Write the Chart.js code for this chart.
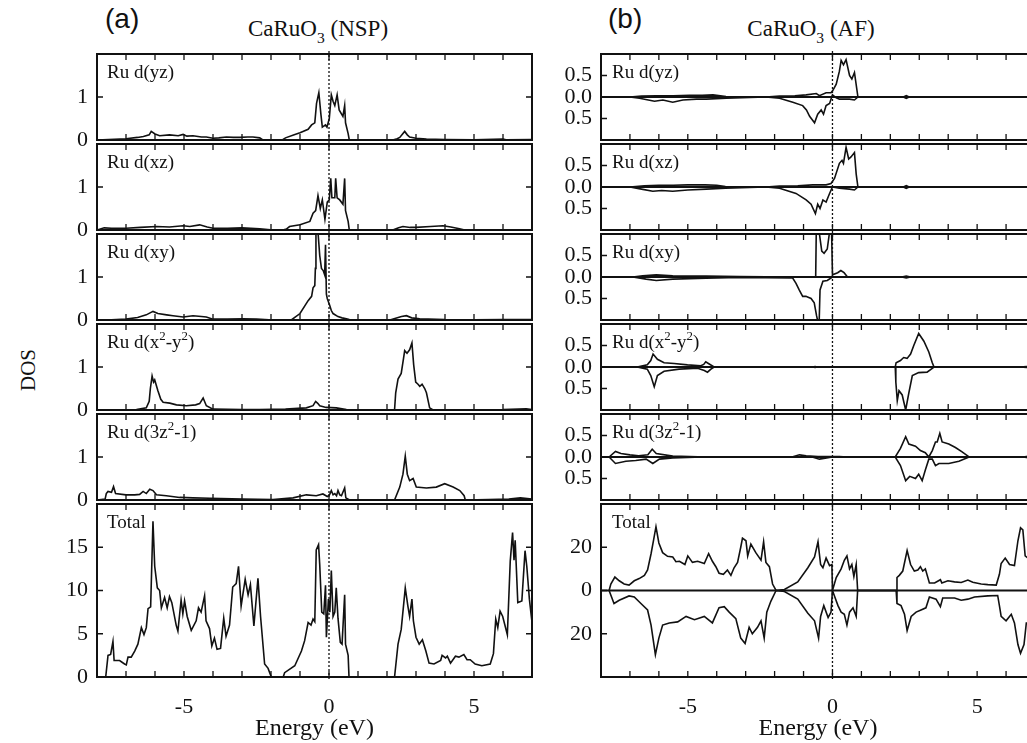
<!DOCTYPE html>
<html>
<head>
<meta charset="utf-8">
<script src="https://cdn.jsdelivr.net/npm/chart.js@4.4.1/dist/chart.umd.min.js"></script>
<style>
    html, body { margin: 0; padding: 0; width: 1027px; height: 743px; overflow: hidden; background: #fff; }
    #fig { position: relative; width: 1027px; height: 743px; font-family: "Liberation Serif", "DejaVu Serif", serif; color: #111; }
    #fig canvas { position: absolute; }
    .lbl { position: absolute; font-size: 19px; line-height: 1; white-space: nowrap; }
    .title { position: absolute; font-size: 23px; line-height: 1; white-space: nowrap; transform: translateX(-50%); }
    .tag { position: absolute; font-family: "Liberation Sans", Arial, sans-serif; font-size: 28px; line-height: 1; }
    sub { font-size: 0.68em; vertical-align: -0.45em; line-height: 0; }
    sup { font-size: 0.68em; vertical-align: 0.6em; line-height: 0; }
    #dos { position: absolute; left: 28px; top: 370px; font-size: 21px; line-height: 1; transform: translate(-50%, -50%) rotate(-90deg); }
</style>
</head>
<body>
<div id="fig">
    <div class="tag" style="left:105px;top:5px">(a)</div>
    <div class="tag" style="left:608px;top:5px">(b)</div>
    <div class="title" style="left:318px;top:17px">CaRuO<sub>3</sub> (NSP)</div>
    <div class="title" style="left:811px;top:17px">CaRuO<sub>3</sub> (AF)</div>
    <div id="dos">DOS</div>
</div>
<script>
// ---- data: [energy (eV), DOS] ----
const panelNames = ['Ru d(yz)', 'Ru d(xz)', 'Ru d(xy)', 'Ru d(x<sup>2</sup>-y<sup>2</sup>)', 'Ru d(3z<sup>2</sup>-1)', 'Total'];
const energyTicks = [-5, 0, 5];
const nspOrbTicks = [0, 1];
const nspTotTicks = [0, 5, 10, 15];
const afOrbTicks = [-0.5, 0, 0.5];
const afTotTicks = [-20, 0, 20];

// (a) non spin polarised
const nspYz = [[-8,0],[-7.6,0.01],[-7.0,0.03],[-6.6,0.06],[-6.4,0.08],[-6.2,0.12],[-6.13,0.2],[-6.0,0.14],[-5.84,0.1],[-5.5,0.12],[-5.2,0.1],[-5.03,0.13],[-4.9,0.09],[-4.69,0.1],[-4.4,0.07],[-4.23,0.07],[-4.0,0.04],[-3.8,0.05],[-3.54,0.07],[-3.3,0.06],[-3.08,0.06],[-2.8,0.07],[-2.62,0.07],[-2.39,0.05],[-2.28,0],[-1.61,0],[-1.5,0.05],[-1.2,0.12],[-1.0,0.17],[-0.72,0.25],[-0.6,0.35],[-0.49,0.4],[-0.43,0.85],[-0.35,1.1],[-0.28,0.6],[-0.23,0.3],[-0.12,0.35],[-0.07,0.3],[0.01,0.5],[0.08,1.05],[0.14,0.9],[0.2,0.8],[0.28,1.05],[0.35,0.7],[0.48,0.55],[0.54,0.8],[0.57,0.4],[0.66,0.15],[0.7,0],[2.2,0],[2.35,0.03],[2.44,0.06],[2.61,0.2],[2.7,0.12],[2.78,0.07],[3.0,0.04],[3.36,0.02],[4,0.01],[5,0.005],[6.0,0.02],[6.1,0.005],[7,0.01]];
const nspXz = [[-8,0],[-7.75,0.05],[-7.5,0.04],[-7.0,0.04],[-6.5,0.06],[-5.95,0.08],[-5.5,0.07],[-5.03,0.1],[-4.8,0.08],[-4.46,0.12],[-4.2,0.07],[-4.0,0.04],[-3.5,0.04],[-3.0,0.05],[-2.39,0.03],[-1.93,0],[-1.59,0],[-1.47,0.02],[-1.36,0.08],[-1.0,0.12],[-0.66,0.2],[-0.55,0.39],[-0.46,0.45],[-0.38,0.8],[-0.3,0.5],[-0.23,0.7],[-0.14,0.25],[-0.06,0.65],[0.01,0.7],[0.06,1.2],[0.1,0.75],[0.2,0.75],[0.23,1.2],[0.28,0.75],[0.37,0.7],[0.48,0.6],[0.54,1.2],[0.57,0.45],[0.66,0.2],[0.7,0],[2.2,0],[2.4,0.05],[2.55,0.08],[2.8,0.06],[3.0,0.06],[3.5,0.08],[3.93,0.1],[4.2,0.07],[4.5,0.03],[4.68,0],[5.5,0.005],[7,0.005]];
const nspXy = [[-8,0],[-7.5,0.005],[-7.0,0.02],[-6.6,0.06],[-6.3,0.12],[-6.07,0.2],[-5.9,0.15],[-5.6,0.12],[-5.38,0.1],[-5.03,0.07],[-4.69,0.1],[-4.4,0.08],[-4.23,0.07],[-4.0,0.02],[-3.5,0.02],[-2.97,0.03],[-2.5,0.02],[-1.93,0],[-1.3,0],[-1.0,0.15],[-0.72,0.45],[-0.6,0.55],[-0.55,0.75],[-0.49,0.8],[-0.47,1.2],[-0.45,2.05],[-0.38,2.05],[-0.32,1.5],[-0.26,1.2],[-0.2,1.15],[-0.15,1.05],[-0.12,1.75],[-0.09,0.6],[-0.06,0.5],[0.02,0.35],[0.08,0.22],[0.14,0.15],[0.31,0.08],[0.45,0.05],[0.6,0.03],[0.7,0.01],[2.1,0],[2.3,0.04],[2.5,0.08],[2.67,0.1],[2.85,0.05],[3.13,0.03],[4,0.01],[5,0.005],[6,0.01],[7,0.01]];
const nspX2y2 = [[-8,0],[-7,0.005],[-6.64,0.01],[-6.3,0.05],[-6.2,0.2],[-6.16,0.5],[-6.1,0.79],[-6.05,0.65],[-6.01,0.7],[-5.9,0.45],[-5.8,0.25],[-5.72,0.18],[-5.49,0.16],[-5.26,0.12],[-4.92,0.1],[-4.6,0.12],[-4.46,0.15],[-4.34,0.28],[-4.23,0.1],[-4.0,0.02],[-3,0.01],[-2.39,0.01],[-1.5,0.02],[-0.78,0.05],[-0.55,0.1],[-0.46,0.2],[-0.38,0.15],[-0.32,0.1],[-0.1,0.06],[0.25,0.05],[0.6,0.01],[2.26,0],[2.3,0.4],[2.38,0.72],[2.49,0.85],[2.57,1.2],[2.61,1.38],[2.69,1.32],[2.78,1.4],[2.86,1.56],[2.92,1.05],[2.99,0.65],[3.07,0.6],[3.13,0.55],[3.21,0.6],[3.3,0.5],[3.36,0.4],[3.47,0.05],[3.59,0],[5,0.005],[6,0.01],[6.8,0.03],[7,0.01]];
const nsp3z2 = [[-8,0],[-7.72,0.02],[-7.68,0.15],[-7.62,0.2],[-7.5,0.18],[-7.43,0.31],[-7.36,0.15],[-7.0,0.12],[-6.7,0.12],[-6.53,0.13],[-6.41,0.2],[-6.3,0.15],[-6.18,0.25],[-6.07,0.22],[-5.95,0.12],[-5.61,0.1],[-5.15,0.06],[-4.69,0.05],[-4.11,0.04],[-2.97,0.02],[-1.93,0.01],[-1.24,0.05],[-0.78,0.12],[-0.44,0.1],[-0.21,0.14],[-0.06,0.08],[0.02,0.12],[0.08,0.22],[0.14,0.12],[0.2,0.15],[0.26,0.1],[0.31,0.22],[0.37,0.12],[0.43,0.1],[0.54,0.28],[0.58,0.05],[0.71,0],[2.26,0],[2.44,0.3],[2.55,0.6],[2.63,1.02],[2.7,0.6],[2.78,0.45],[2.9,0.5],[3.01,0.3],[3.36,0.28],[3.7,0.3],[3.99,0.38],[4.28,0.3],[4.51,0.22],[4.66,0.1],[4.7,0],[5.5,0.01],[6.2,0.02],[6.6,0.05],[7,0.02]];
const nspTotal = [[-8,0],[-7.7,0],[-7.62,2.5],[-7.53,2.6],[-7.45,4.1],[-7.41,1.9],[-7.22,1.9],[-7.05,1.5],[-6.99,1.4],[-6.93,2.3],[-6.82,2.3],[-6.7,3.0],[-6.59,3.8],[-6.47,5.7],[-6.38,4.9],[-6.3,5.7],[-6.24,7.9],[-6.15,8.1],[-6.07,18.0],[-6.01,12.8],[-5.92,10.3],[-5.84,10.0],[-5.78,8.0],[-5.67,9.2],[-5.58,8.0],[-5.5,9.3],[-5.42,8.6],[-5.27,6.0],[-5.21,5.3],[-5.1,8.9],[-5.04,7.3],[-4.98,8.8],[-4.89,7.0],[-4.75,5.4],[-4.58,6.5],[-4.5,8.0],[-4.41,7.5],[-4.29,9.4],[-4.24,6.5],[-4.12,5.6],[-4.04,3.6],[-3.95,4.5],[-3.86,3.2],[-3.74,3.3],[-3.63,6.8],[-3.55,4.7],[-3.43,6.0],[-3.32,10.4],[-3.2,10.8],[-3.12,12.8],[-3.03,8.2],[-2.89,11.3],[-2.79,9.5],[-2.71,10.7],[-2.59,5.9],[-2.45,11.4],[-2.36,7.0],[-2.22,1.5],[-2.1,1.0],[-1.99,0],[-1.58,0],[-1.53,0.5],[-1.18,1.3],[-0.95,3.0],[-0.84,4.2],[-0.72,6.3],[-0.62,6.0],[-0.55,6.7],[-0.49,6.4],[-0.44,14.7],[-0.36,15.3],[-0.32,13.0],[-0.25,7.5],[-0.18,7.3],[-0.12,10.6],[-0.09,4.6],[-0.02,9.0],[0.03,7.5],[0.08,12.3],[0.14,7.0],[0.2,7.5],[0.25,10.3],[0.31,6.8],[0.39,4.0],[0.45,3.8],[0.54,9.5],[0.57,3.8],[0.66,2.5],[0.69,0],[2.26,0],[2.38,3.8],[2.49,5.5],[2.63,10.3],[2.72,8.2],[2.78,7.0],[2.86,9.0],[2.91,6.5],[3.0,4.6],[3.11,3.8],[3.22,4.3],[3.34,3.0],[3.45,1.6],[3.62,1.5],[3.85,1.9],[3.9,2.5],[4.02,2.2],[4.08,2.4],[4.19,1.6],[4.36,2.4],[4.48,2.3],[4.65,2.6],[4.76,2.0],[4.87,2.0],[5.04,1.5],[5.27,1.3],[5.56,1.5],[5.67,2.7],[5.75,6.7],[5.82,5.7],[5.9,7.6],[5.99,7.0],[6.15,4.9],[6.25,13.4],[6.33,16.7],[6.38,13.5],[6.42,15.8],[6.51,8.6],[6.65,8.8],[6.76,14.6],[6.82,12.8],[6.91,9.0],[7.0,6.3]];

// (b) antiferromagnetic, spin up (+) and spin down (-)
const afYzUp = [[-7.0,0],[-6.6,0.02],[-6.09,0.03],[-5.5,0.03],[-4.94,0.04],[-4.5,0.04],[-4.13,0.05],[-3.68,0.01],[-2.3,0],[-1.83,0.02],[-1.3,0.03],[-0.91,0.05],[-0.56,0.08],[-0.45,0.03],[-0.22,0.1],[-0.05,0.1],[0.01,0.15],[0.13,0.3],[0.24,0.6],[0.3,0.85],[0.38,0.75],[0.47,0.87],[0.59,0.5],[0.67,0.42],[0.76,0.57],[0.88,0],[2.45,0],[2.55,0.03],[2.65,0]];
const afYzDn = [[-7.0,0],[-6.67,-0.03],[-6.15,-0.1],[-5.86,-0.07],[-5.52,-0.12],[-5.17,-0.07],[-4.7,-0.05],[-4.36,-0.05],[-3.67,-0.03],[-2.3,0],[-1.83,-0.03],[-1.37,-0.12],[-1.03,-0.2],[-0.9,-0.3],[-0.79,-0.45],[-0.62,-0.6],[-0.51,-0.4],[-0.39,-0.3],[-0.31,-0.4],[-0.22,-0.2],[-0.1,-0.15],[0.0,0.05],[0.13,-0.02],[0.24,-0.05],[0.59,-0.05],[0.76,-0.07],[0.88,0],[2.45,0],[2.55,-0.03],[2.65,0]];
const afXzUp = [[-7.0,0],[-6.5,0.03],[-6.0,0.04],[-5.5,0.04],[-5.0,0.05],[-4.4,0.05],[-4.0,0.04],[-3.7,0.01],[-2.3,0],[-1.83,0.02],[-1.2,0.03],[-0.68,0.05],[-0.22,0.05],[-0.05,0.08],[0.07,0.2],[0.24,0.55],[0.33,0.62],[0.38,0.55],[0.47,0.92],[0.56,0.65],[0.64,0.7],[0.76,0.8],[0.82,0.3],[0.88,0],[2.45,0],[2.55,0.03],[2.65,0]];
const afXzDn = [[-7.0,0],[-6.6,-0.05],[-6.21,-0.1],[-5.9,-0.08],[-5.52,-0.1],[-5.0,-0.07],[-4.36,-0.05],[-3.7,-0.03],[-2.3,0],[-1.83,-0.03],[-1.26,-0.15],[-0.91,-0.3],[-0.74,-0.4],[-0.59,-0.62],[-0.51,-0.4],[-0.43,-0.5],[-0.33,-0.3],[-0.22,-0.35],[-0.1,-0.15],[0,0],[0.24,-0.03],[0.59,-0.05],[0.76,-0.07],[0.88,0],[2.45,0],[2.55,-0.03],[2.65,0]];
const afXyUp = [[-6.9,0],[-6.56,0.03],[-6.09,0.05],[-5.52,0.03],[-4.37,0.02],[-3.22,0.01],[-1.38,0],[-0.58,0],[-0.56,1.05],[-0.46,1.05],[-0.37,0.6],[-0.29,0.55],[-0.18,0.65],[-0.1,1.05],[-0.03,1.05],[0,0.05],[0.18,0.1],[0.29,0.15],[0.4,0.1],[0.52,0],[2.4,0],[2.55,0.02],[2.7,0]];
const afXyDn = [[-6.9,0],[-6.44,-0.05],[-6.09,-0.08],[-5.52,-0.05],[-4.37,-0.03],[-3.22,-0.01],[-1.38,-0.02],[-1.26,-0.15],[-1.15,-0.3],[-1.03,-0.45],[-0.92,-0.45],[-0.74,-0.5],[-0.63,-0.6],[-0.55,-0.9],[-0.5,-1.05],[-0.46,-1.05],[-0.43,-0.3],[-0.33,-0.1],[-0.18,-0.08],[0,0],[0.5,0],[2.4,0],[2.55,-0.02],[2.7,0]];
const afX2y2Up = [[-6.75,0],[-6.4,0.05],[-6.28,0.15],[-6.2,0.3],[-6.05,0.18],[-5.82,0.1],[-5.47,0.08],[-5.01,0.05],[-4.55,0.03],[-4.45,0.06],[-4.38,0.12],[-4.26,0.07],[-4.09,0],[-0.7,0],[-0.6,0.01],[-0.5,0],[2.17,0],[2.2,0.1],[2.35,0.15],[2.46,0.22],[2.58,0.2],[2.7,0.3],[2.81,0.5],[2.98,0.78],[3.16,0.6],[3.33,0.35],[3.45,0.1],[3.51,0],[6.5,0],[6.7,0.01],[7,0]];
const afX2y2Dn = [[-6.75,0],[-6.4,-0.05],[-6.28,-0.2],[-6.16,-0.46],[-6.05,-0.2],[-5.82,-0.1],[-5.3,-0.05],[-4.66,-0.03],[-4.43,-0.08],[-4.32,-0.12],[-4.2,-0.05],[-4.09,0],[-0.7,0],[-0.6,-0.01],[-0.5,0],[2.17,0],[2.19,-0.35],[2.24,-0.78],[2.3,-0.55],[2.41,-0.65],[2.53,-1.0],[2.64,-0.6],[2.76,-0.2],[2.98,-0.13],[3.27,-0.12],[3.45,-0.03],[3.51,0],[6.5,0],[6.7,-0.01],[7,0]];
const af3z2Up = [[-7.72,0],[-7.5,0.13],[-7.31,0.08],[-7.0,0.05],[-6.7,0.03],[-6.38,0.05],[-6.23,0.18],[-6.09,0.08],[-5.52,0.02],[-4.37,0],[-1.4,0],[-1.14,0.05],[-0.91,0.03],[-0.5,0.01],[0.24,0.01],[0.5,0],[2.17,0],[2.35,0.2],[2.53,0.47],[2.64,0.3],[2.87,0.25],[3.04,0.15],[3.21,0.1],[3.33,0],[3.45,0.15],[3.56,0.35],[3.62,0.35],[3.71,0.55],[3.79,0.35],[4.02,0.3],[4.25,0.22],[4.48,0.12],[4.66,0.03],[4.72,0],[6.6,0],[6.8,0.02],[7,0]];
const af3z2Dn = [[-7.72,0],[-7.5,-0.15],[-7.14,-0.1],[-6.8,-0.08],[-6.44,-0.05],[-6.21,-0.15],[-5.98,-0.05],[-5.52,-0.02],[-4.5,0],[-0.7,0],[-0.45,-0.05],[-0.2,-0.02],[0,0],[2.17,0],[2.35,-0.2],[2.53,-0.55],[2.67,-0.45],[2.87,-0.5],[2.98,-0.4],[3.1,-0.55],[3.21,-0.3],[3.33,-0.05],[3.45,-0.05],[3.56,-0.2],[3.68,-0.15],[4.02,-0.15],[4.37,-0.1],[4.66,-0.02],[4.72,0],[6.6,0],[6.8,-0.02],[7,0]];
const afTotUp = [[-7.72,0],[-7.66,3],[-7.52,6.2],[-7.37,4.5],[-7.2,3],[-7.03,2.5],[-6.85,4.5],[-6.68,5.5],[-6.5,7.0],[-6.39,9.5],[-6.27,17],[-6.18,23.5],[-6.1,29.5],[-6.0,22],[-5.87,17.5],[-5.7,15.8],[-5.52,15.5],[-5.41,13.3],[-5.29,13.5],[-5.1,12.0],[-5.0,16],[-4.84,13],[-4.66,13.5],[-4.43,12.5],[-4.28,17],[-4.15,13.5],[-4.03,11],[-3.92,8],[-3.77,7.5],[-3.63,9.5],[-3.51,7.0],[-3.4,10.5],[-3.28,13],[-3.17,20],[-3.11,24.2],[-2.99,23],[-2.93,16],[-2.82,21.5],[-2.65,17.5],[-2.47,14],[-2.38,22.5],[-2.3,13],[-2.18,11],[-2.07,3],[-1.95,0],[-1.66,0.5],[-1.2,4],[-0.85,10.5],[-0.62,15.5],[-0.5,22.5],[-0.41,12],[-0.33,10.5],[-0.22,15],[-0.1,11.5],[-0.02,12],[0,0],[0.13,6],[0.3,10],[0.41,14],[0.5,16],[0.59,10],[0.67,12],[0.74,6.5],[0.82,12],[0.87,0],[2.2,0],[2.23,6],[2.31,7],[2.43,9],[2.58,18.5],[2.7,12],[2.83,9],[2.95,9.5],[3.04,11],[3.12,9],[3.21,10],[3.35,3.5],[3.53,3.5],[3.73,5],[3.78,3.5],[3.99,4.5],[4.22,4.0],[4.45,3.7],[4.68,4.8],[4.85,3.8],[5.14,3.0],[5.37,2.7],[5.66,2.5],[5.77,7.5],[5.83,12.5],[5.97,15],[6.12,12],[6.29,11.5],[6.41,23],[6.5,29],[6.58,28],[6.66,16],[6.75,15],[7,15]];
const afTotDn = [[-7.72,0],[-7.55,-6],[-7.37,-4.5],[-7.03,-2.5],[-6.85,-3],[-6.62,-6],[-6.39,-9],[-6.27,-16],[-6.12,-29.7],[-6.0,-22],[-5.87,-16],[-5.64,-15],[-5.35,-14.5],[-5.06,-12],[-4.77,-13.5],[-4.43,-12],[-4.15,-15],[-3.92,-8],[-3.74,-7.5],[-3.57,-10],[-3.34,-13],[-3.17,-22],[-3.02,-24.5],[-2.88,-17],[-2.77,-20],[-2.59,-17],[-2.47,-14],[-2.36,-22],[-2.27,-10],[-2.13,-5],[-1.95,0],[-1.66,-0.5],[-1.2,-4],[-0.85,-10.5],[-0.62,-14],[-0.48,-22],[-0.41,-12],[-0.3,-7],[-0.15,-12.5],[-0.05,-10],[0,0],[0.19,-7],[0.3,-10],[0.41,-11],[0.5,-16],[0.59,-10],[0.71,-8],[0.82,-12],[0.87,0],[2.2,0],[2.23,-6],[2.37,-7],[2.49,-11],[2.58,-18.5],[2.72,-12],[2.89,-10],[3.06,-9],[3.23,-8],[3.35,-3],[3.58,-4],[3.73,-7.5],[3.81,-3.5],[4.22,-3.5],[4.45,-4.5],[4.68,-4],[4.91,-3],[5.37,-2.5],[5.71,-2.3],[5.77,-7],[5.83,-12],[6.0,-14],[6.18,-11],[6.29,-15],[6.41,-25],[6.5,-29],[6.62,-25],[6.7,-15],[7,-15]];

const nspSeries = [nspYz, nspXz, nspXy, nspX2y2, nsp3z2, nspTotal];
const afUpSeries = [afYzUp, afXzUp, afXyUp, afX2y2Up, af3z2Up, afTotUp];
const afDnSeries = [afYzDn, afXzDn, afXyDn, afX2y2Dn, af3z2Dn, afTotDn];

// ---- layout ----
const panelTops = [54, 144, 234, 324, 414, 504];
const panelHeights = [86, 86, 86, 86, 86, 173];
const columns = [
    { left: 0, width: 540, axisWidth: 97, padRight: 8, labelX: 107 },
    { left: 540, width: 505, axisWidth: 61, padRight: 10, labelX: 612 }
];
const ink = '#111';
const serif = '"Liberation Serif", "DejaVu Serif", serif';
const fig = document.getElementById('fig');

Chart.defaults.font.family = serif;
Chart.defaults.color = ink;

// frame, inward ticks, E_F dotted line, zero line
const panelFrame = {
    id: 'panelFrame',
    afterDatasetsDraw(chart, args, opts) {
        const { ctx, chartArea: a, scales: { x, y } } = chart;
        ctx.save();
        ctx.strokeStyle = ink;
        if (opts.zeroLine) {
            const y0 = y.getPixelForValue(0);
            ctx.lineWidth = 2;
            ctx.beginPath(); ctx.moveTo(a.left, y0); ctx.lineTo(a.right, y0); ctx.stroke();
        }
        const x0 = x.getPixelForValue(0);
        ctx.lineWidth = 1.3;
        ctx.setLineDash([2, 2]);
        ctx.beginPath(); ctx.moveTo(x0, a.top - 3); ctx.lineTo(x0, a.bottom + 3); ctx.stroke();
        ctx.setLineDash([]);
        ctx.beginPath();
        for (let e = -7; e <= 6; e++) {
            const px = x.getPixelForValue(e);
            ctx.moveTo(px, a.top); ctx.lineTo(px, a.top + 6);
            ctx.moveTo(px, a.bottom); ctx.lineTo(px, a.bottom - 6);
        }
        opts.yTicks.forEach(v => {
            const py = y.getPixelForValue(v);
            ctx.moveTo(a.left, py); ctx.lineTo(a.left + 6, py);
            ctx.moveTo(a.right, py); ctx.lineTo(a.right - 6, py);
        });
        ctx.stroke();
        ctx.lineWidth = 2;
        ctx.strokeRect(a.left, a.top, a.right - a.left, a.bottom - a.top);
        ctx.restore();
    }
};

function makePanel(col, row, series, yMin, yMax, yTicks, yFmt, zeroLine) {
    const isBottom = row === panelTops.length - 1;
    const canvasTop = panelTops[row] - 14;
    const canvas = document.createElement('canvas');
    canvas.width = col.width;
    canvas.height = isBottom ? 743 - canvasTop : panelHeights[row] + 28;
    canvas.style.left = col.left + 'px';
    canvas.style.top = canvasTop + 'px';
    fig.appendChild(canvas);

    const label = document.createElement('div');
    label.className = 'lbl';
    label.style.left = col.labelX + 'px';
    label.style.top = (panelTops[row] + 8) + 'px';
    label.innerHTML = panelNames[row];
    fig.appendChild(label);

    new Chart(canvas, {
        type: 'line',
        data: {
            datasets: series.map(s => ({
                data: s.map(p => ({ x: p[0], y: p[1] })),
                borderColor: ink, borderWidth: 1.6, pointRadius: 0, tension: 0, fill: false
            }))
        },
        options: {
            responsive: false, animation: false, devicePixelRatio: 1,
            layout: { padding: { left: 0, right: col.padRight, top: 14, bottom: isBottom ? 0 : 14 } },
            plugins: { legend: { display: false }, tooltip: { enabled: false }, panelFrame: { yTicks, zeroLine } },
            scales: {
                x: {
                    type: 'linear', min: -8, max: 7, display: isBottom,
                    grid: { display: false, drawTicks: false }, border: { display: false },
                    afterBuildTicks: s => { s.ticks = energyTicks.map(v => ({ value: v })); },
                    // fixed sizes so every panel lines up
                    afterFit: s => { s.height = isBottom ? 66 : 0; s.paddingLeft = 0; s.paddingRight = 0; },
                    ticks: { font: { family: serif, size: 22 }, padding: 17, maxRotation: 0, callback: v => String(v) },
                    title: { display: true, text: 'Energy (eV)', font: { family: serif, size: 24 }, padding: 0 }
                },
                y: {
                    min: yMin, max: yMax,
                    grid: { display: false, drawTicks: false }, border: { display: false },
                    afterBuildTicks: s => { s.ticks = yTicks.map(v => ({ value: v })); },
                    afterFit: s => { s.width = col.axisWidth; s.paddingTop = 0; s.paddingBottom = 0; },
                    ticks: { font: { family: serif, size: 22 }, padding: 9, callback: yFmt }
                }
            }
        },
        plugins: [panelFrame]
    });
}

panelTops.forEach((top, row) => {
    const isTotal = row === panelTops.length - 1;
    makePanel(columns[0], row, [nspSeries[row]], 0, isTotal ? 20 : 2,
        isTotal ? nspTotTicks : nspOrbTicks, v => String(v), false);
    makePanel(columns[1], row, [afUpSeries[row], afDnSeries[row]], isTotal ? -40 : -1, isTotal ? 40 : 1,
        isTotal ? afTotTicks : afOrbTicks,
        v => isTotal ? String(Math.abs(v)) : Math.abs(v).toFixed(1), true);
});
</script>
</body>
</html>
